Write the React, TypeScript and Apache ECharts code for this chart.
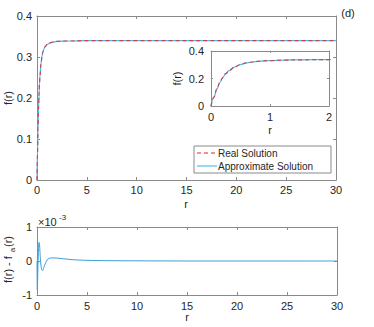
import React, { useEffect, useRef } from "react";
import * as echarts from "echarts";

// Solution profile f(r)
const rValues = [0, 0.05, 0.1, 0.15, 0.2, 0.25, 0.3, 0.4, 0.5, 0.6, 0.7, 0.8, 1.0, 1.25, 1.5, 2.0, 3.0, 5.0, 10, 20, 30];
const realValues = [0, 0.065, 0.125, 0.172, 0.207, 0.235, 0.255, 0.283, 0.301, 0.313, 0.32, 0.325, 0.33, 0.334, 0.336, 0.338, 0.339, 0.34, 0.34, 0.34, 0.34];
const approxValues = [0, 0.065, 0.124, 0.171, 0.207, 0.235, 0.255, 0.283, 0.301, 0.313, 0.32, 0.325, 0.33, 0.334, 0.336, 0.338, 0.339, 0.34, 0.34, 0.34, 0.34];

// Error f(r) - f_a(r), in units of 1e-3
const errR = [0, 0.03, 0.06, 0.1, 0.15, 0.2, 0.25, 0.3, 0.35, 0.42, 0.5, 0.57, 0.65, 0.8, 0.95, 1.1, 1.4, 1.8, 2.5, 3.5, 5, 7, 10, 15, 20, 25, 30];
const errValues = [0, -0.85, -0.6, -0.1, 0.35, 0.55, 0.5, 0.25, 0.0, -0.18, -0.27, -0.28, -0.22, -0.1, 0.0, 0.06, 0.09, 0.09, 0.07, 0.04, 0.02, 0.01, 0.005, 0, 0, 0, 0];

const insetYTicks = [0, 0.2, 0.4];
const legendNames = ["Real Solution", "Approximate Solution"];

const FONT = "Liberation Sans, Arial, Helvetica, sans-serif";
const TEXT = "#262626";
const AXIS = "#8a8a8a";
const RED = "#e8222e";
const BLUE = "#4DBEEE";
const FS = 11;

function zip(a: number[], b: number[]) {
  return a.map((v, i) => [v, b[i]]);
}

function fmt(v: number) {
  return String(Math.round(v * 1000) / 1000);
}

function axis(
  grid: number,
  position: string,
  min: number,
  max: number,
  interval: number,
  showLabel: boolean,
  margin: number,
  tickLen: number
) {
  return {
    type: "value",
    gridIndex: grid,
    position,
    min,
    max,
    interval,
    axisLine: { show: true, onZero: false, lineStyle: { color: AXIS, width: 1 } },
    axisTick: { show: true, inside: true, length: tickLen, lineStyle: { color: AXIS } },
    splitLine: { show: false },
    axisLabel: {
      show: showLabel,
      color: TEXT,
      fontSize: FS,
      fontFamily: FONT,
      margin,
      formatter: fmt,
      showMinLabel: true,
      showMaxLabel: true,
      hideOverlap: false,
    },
  };
}

function txt(x: number, y: number, text: string, opts: any = {}) {
  return {
    type: "text",
    x,
    y,
    rotation: opts.rotation || 0,
    z: opts.z || 20,
    style: {
      text,
      fill: TEXT,
      fontSize: opts.fontSize || FS,
      fontFamily: FONT,
      align: opts.align || "center",
      verticalAlign: "middle",
    },
  };
}

export default function App() {
  const ref = useRef<HTMLDivElement>(null);
  useEffect(() => {
    if (!ref.current) return;
    const chart = echarts.init(ref.current, undefined, { renderer: "svg" });
    const realData = zip(rValues, realValues);
    const approxData = zip(rValues, approxValues);
    const errData = zip(errR, errValues);
    const R90 = Math.PI / 2;
    const insetLeft = axis(1, "left", 0, 0.4, 0.2, true, 7, 2);
    (insetLeft.axisLabel as any).customValues = insetYTicks;
    (insetLeft.axisTick as any).customValues = insetYTicks;
    const option: any = {
      animation: false,
      backgroundColor: "#fff",
      textStyle: { fontFamily: FONT },
      grid: [
        { left: 37, top: 16, width: 299, height: 164, show: false },
        { left: 211, top: 51, width: 118, height: 55, show: true, backgroundColor: "#fff", borderWidth: 0, z: 5 },
        { left: 37, top: 227, width: 300, height: 68, show: false },
      ],
      xAxis: [
        axis(0, "bottom", 0, 30, 5, true, 4, 3),
        axis(0, "top", 0, 30, 5, false, 4, 3),
        { ...axis(1, "bottom", 0, 2, 1, true, 5, 2), z: 6 },
        { ...axis(1, "top", 0, 2, 1, false, 5, 2), z: 6 },
        axis(2, "bottom", 0, 30, 5, true, 5, 3),
        axis(2, "top", 0, 30, 5, false, 5, 3),
      ],
      yAxis: [
        axis(0, "left", 0, 0.4, 0.1, true, 5, 3),
        axis(0, "right", 0, 0.4, 0.1, false, 5, 3),
        { ...insetLeft, z: 6 },
        { ...axis(1, "right", 0, 0.4, 0.2, false, 7, 2), z: 6 },
        axis(2, "left", -1, 1, 1, true, 5, 3),
        axis(2, "right", -1, 1, 1, false, 5, 3),
      ],
      series: [
        {
          name: legendNames[1], type: "line", xAxisIndex: 0, yAxisIndex: 0,
          data: approxData, showSymbol: false, symbol: "none", smooth: 0.4, smoothMonotone: "x",
          lineStyle: { color: BLUE, width: 1.2 }, itemStyle: { color: BLUE }, z: 2,
        },
        {
          name: legendNames[0], type: "line", xAxisIndex: 0, yAxisIndex: 0,
          data: realData, showSymbol: false, symbol: "none", smooth: 0.4, smoothMonotone: "x",
          lineStyle: { color: RED, width: 1.2, type: [4, 3], opacity: 0.8 }, itemStyle: { color: RED }, z: 3,
        },
        {
          name: legendNames[1], type: "line", xAxisIndex: 2, yAxisIndex: 2,
          data: approxData, showSymbol: false, symbol: "none", smooth: 0.4, smoothMonotone: "x",
          lineStyle: { color: BLUE, width: 1.2 }, itemStyle: { color: BLUE }, z: 7,
        },
        {
          name: legendNames[0], type: "line", xAxisIndex: 2, yAxisIndex: 2,
          data: realData, showSymbol: false, symbol: "none", smooth: 0.4, smoothMonotone: "x",
          lineStyle: { color: RED, width: 1.2, type: [4, 3], opacity: 0.8 }, itemStyle: { color: RED }, z: 8,
        },
        {
          name: "Error", type: "line", xAxisIndex: 4, yAxisIndex: 4,
          data: errData, showSymbol: false, symbol: "none", smooth: 0.3,
          lineStyle: { color: "#3f9fd8", width: 1 }, z: 2,
        },
      ],
      graphic: [
        // legend box
        { type: "rect", shape: { x: 194, y: 146, width: 137, height: 27 }, style: { fill: "#fff", stroke: AXIS, lineWidth: 1 }, z: 9 },
        { type: "line", shape: { x1: 197, y1: 153, x2: 217, y2: 153 }, style: { stroke: RED, lineWidth: 1.2, lineDash: [4, 3] }, z: 10 },
        { type: "line", shape: { x1: 197, y1: 166, x2: 217, y2: 166 }, style: { stroke: BLUE, lineWidth: 1.2 }, z: 10 },
        txt(218, 153, legendNames[0], { align: "left", fontSize: 10 }),
        txt(218, 166, legendNames[1], { align: "left", fontSize: 10 }),
        // axis titles
        txt(7.5, 98, "f(r)", { rotation: R90 }),
        txt(186, 204, "r"),
        txt(177, 78.5, "f(r)", { rotation: R90 }),
        txt(270, 130, "r"),
        txt(187, 317, "r"),
        txt(7.5, 283, "f(r) - f", { rotation: R90, align: "left" }),
        txt(12.5, 250, "a", { rotation: R90, fontSize: 8 }),
        txt(7.5, 247, "(r)", { rotation: R90, align: "left" }),
        txt(38, 222, "×10", { align: "left" }),
        txt(59, 217, "-3", { align: "left", fontSize: 8 }),
        txt(348, 13, "(d)"),
      ],
    };
    chart.setOption(option);
    return () => chart.dispose();
  }, []);
  return <div ref={ref} style={{ position: "absolute", left: 0, top: 0, width: 374, height: 327 }} />;
}
